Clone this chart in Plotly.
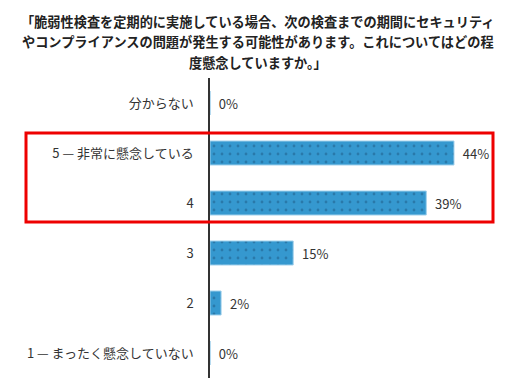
import plotly.graph_objects as go

categories = ["分からない", "5 — 非常に懸念している", "4", "3", "2", "1 — まったく懸念していない"]
values = [0, 44, 39, 15, 2, 0]
labels = [f"{v}%" for v in values]
title_lines = [
    "「脆弱性検査を定期的に実施している場合、次の検査までの期間にセキュリティ",
    "やコンプライアンスの問題が発生する可能性があります。これについてはどの程",
    "度懸念していますか。」",
]

OFF = 8  # page body margin
W, H = 515 - 2 * OFF, 392 - 2 * OFF
# page-pixel layout targets
PL, PR, PT, PB = 210, 499, 78, 378
L, T = PL - OFF, PT - OFF
R = W - (PR - OFF)
B = H - (PB - OFF)
pw = PR - PL
ph = PB - PT

FONT = "Noto Sans CJK JP, Noto Sans, sans-serif"

fig = go.Figure(go.Bar(
    y=categories, x=values, orientation="h",
    text=labels, texttemplate="  %{text}", textposition="outside", cliponaxis=False,
    textfont=dict(size=13, color="#333333", family=FONT),
    width=0.48,
    marker=dict(color="#3598cf",
                line=dict(color="#9fd0ec", width=1),
                pattern=dict(shape=".", fgcolor="#1d5a86", bgcolor="#3598cf",
                             size=8, solidity=0.1)),
    hoverinfo="skip",
))

def px_x(p):
    return (p - PL) / pw

def px_y(p):
    return 1 - (p - PT) / ph

annos = []
for ypx, line in zip([21, 42, 63], title_lines):
    annos.append(dict(text=f"<b>{line}</b>", x=px_x(258), y=px_y(ypx),
                      xref="paper", yref="paper", xanchor="center", yanchor="middle",
                      showarrow=False, font=dict(size=13.2, color="#222222", family=FONT)))

fig.update_layout(
    width=W, height=H,
    margin=dict(l=L, r=R, t=T, b=B, autoexpand=False),
    paper_bgcolor="white", plot_bgcolor="white",
    showlegend=False,
    annotations=annos,
    shapes=[dict(type="rect", xref="paper", yref="paper",
                 x0=px_x(26), x1=px_x(493), y0=px_y(222), y1=px_y(133),
                 line=dict(color="#ee0000", width=3))],
    font=dict(family=FONT, color="#333333"),
)
fig.update_xaxes(range=[0, pw / 5.545], visible=False, fixedrange=True)
fig.update_yaxes(autorange=False, range=[5.5, -0.5], type="category",
                 showline=True, linecolor="#333333", linewidth=1.5,
                 showgrid=False, zeroline=False, ticks="", ticklabelstandoff=12,
                 tickfont=dict(size=13, color="#333333", family=FONT))

fig.write_html("out.html")
